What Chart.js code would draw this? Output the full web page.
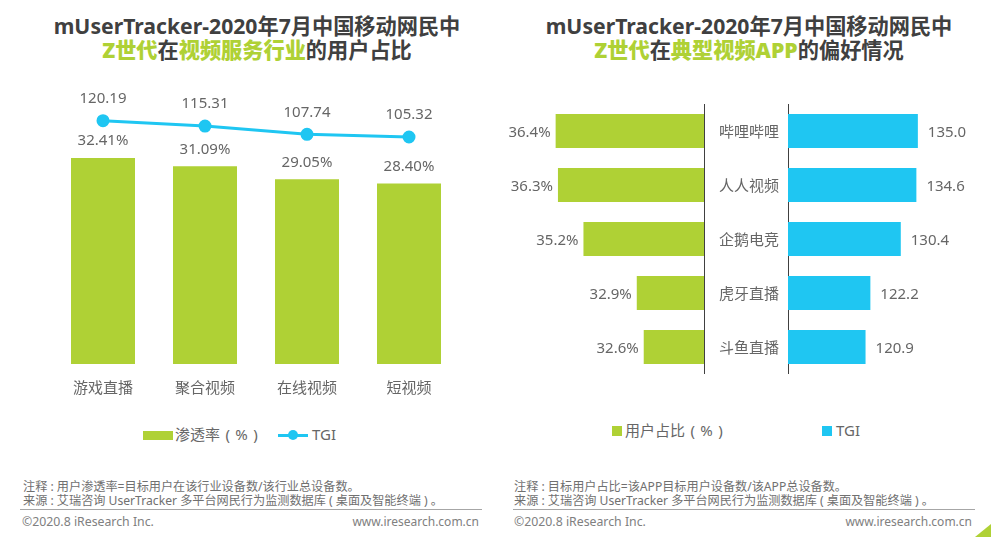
<!DOCTYPE html>
<html>
<head>
<meta charset="utf-8">
<script src="https://cdn.jsdelivr.net/npm/chart.js@4"></script>
<style>
  html, body { margin: 0; padding: 0; background: #fff; }
  body { width: 991px; height: 537px; position: relative; overflow: hidden; font-family: "Noto Sans", "Noto Sans CJK SC", sans-serif; color: #666; }
  .abs { position: absolute; white-space: nowrap; }
  canvas { position: absolute; }
  .title { font-size: 21.2px; line-height: 24px; font-weight: 700; color: #404040; text-align: center; width: 490px; }
  .title b { color: #afd135; }
  .legend { font-size: 15px; line-height: 20px; word-spacing: 1.5px; }
  .note { font-size: 12.15px; line-height: 14px; color: #707070; }
  .foot { font-size: 12px; line-height: 16px; color: #808080; }
  .copy { font-size: 12.3px; }
  .rule { height: 1px; background: #a6a6a6; }
  .corner { left: 975px; top: 524px; width: 16px; height: 13px; background: #afd135; clip-path: polygon(100% 0, 100% 100%, 0 100%); }
</style>
</head>
<body>
<div class="abs title" style="left:12px;top:14px">mUserTracker-2020年7月中国移动网民中<br><b>Z世代</b>在<b>视频服务行业</b>的用户占比</div>
<div class="abs title" style="left:504px;top:14px">mUserTracker-2020年7月中国移动网民中<br><b>Z世代</b>在<b>典型视频APP</b>的偏好情况</div>

<canvas id="industryChart" style="left:52px;top:90px;width:408px;height:320px"></canvas>
<canvas id="shareChart" style="left:500px;top:104px;width:205px;height:270px"></canvas>
<canvas id="tgiChart" style="left:705px;top:104px;width:270px;height:270px"></canvas>

<div class="abs" style="left:143px;top:431px;width:30px;height:9px;background:#afd135"></div>
<div class="abs legend" style="left:175px;top:424px">渗透率 ( % )</div>
<div class="abs" style="left:278px;top:434px;width:30px;height:3px;background:#1fc6f2"></div>
<div class="abs" style="left:288px;top:430px;width:10px;height:10px;border-radius:50%;background:#1fc6f2"></div>
<div class="abs legend" style="left:312px;top:424px">TGI</div>

<div class="abs" style="left:612px;top:426px;width:10px;height:10px;background:#afd135"></div>
<div class="abs legend" style="left:625px;top:420px">用户占比 ( % )</div>
<div class="abs" style="left:822px;top:426px;width:10px;height:10px;background:#1fc6f2"></div>
<div class="abs legend" style="left:836px;top:420px">TGI</div>

<div class="abs note" style="left:23px;top:480px">注释 : 用户渗透率=目标用户在该行业设备数/该行业总设备数。<br>来源 : 艾瑞咨询 UserTracker 多平台网民行为监测数据库 ( 桌面及智能终端 ) 。</div>
<div class="abs rule" style="left:20px;top:509px;width:462px"></div>
<div class="abs foot copy" style="left:22px;top:514px">©2020.8 iResearch Inc.</div>
<div class="abs foot" style="right:512px;top:514px">www.iresearch.com.cn</div>

<div class="abs note" style="left:514px;top:480px">注释 : 目标用户占比=该APP目标用户设备数/该APP总设备数。<br>来源 : 艾瑞咨询 UserTracker 多平台网民行为监测数据库 ( 桌面及智能终端 ) 。</div>
<div class="abs rule" style="left:513px;top:509px;width:462px"></div>
<div class="abs foot copy" style="left:514px;top:514px">©2020.8 iResearch Inc.</div>
<div class="abs foot" style="right:19px;top:514px">www.iresearch.com.cn</div>
<div class="abs corner"></div>

<script>
const industries = ['游戏直播', '聚合视频', '在线视频', '短视频'];
const penetration = [32.41, 31.09, 29.05, 28.40];
const industryTgi = [120.19, 115.31, 107.74, 105.32];

const apps = ['哔哩哔哩', '人人视频', '企鹅电竞', '虎牙直播', '斗鱼直播'];
const userShare = [36.4, 36.3, 35.2, 32.9, 32.6];
const appTgi = [135.0, 134.6, 130.4, 122.2, 120.9];

const GREEN = '#afd135';
const BLUE = '#1fc6f2';
const LABEL = '#666666';
const FONT = '"Noto Sans", "Noto Sans CJK SC", sans-serif';
const TICK_FONT = { family: '"Noto Sans CJK SC", sans-serif', size: 15 };

Chart.defaults.animation = false;
Chart.defaults.responsive = false;
Chart.defaults.font.family = FONT;

// writes each dataset's own value next to its mark
const valueLabels = {
    id: 'valueLabels',
    afterDatasetsDraw(chart) {
        const ctx = chart.ctx;
        chart.data.datasets.forEach((ds, i) => {
            if (!ds.labelText) return;
            chart.getDatasetMeta(i).data.forEach((el, j) => {
                ctx.save();
                ctx.font = '15px ' + FONT;
                ctx.fillStyle = LABEL;
                ctx.textAlign = ds.labelAlign || 'center';
                ctx.textBaseline = 'middle';
                ctx.fillText(ds.labelText(j), el.x + (ds.labelDx || 0), el.y + (ds.labelDy || 0));
                ctx.restore();
            });
        });
    }
};

// stop the axis reserving room for its tick labels, the plot has to fill the canvas
function fixAxis(scale, key, size) {
    scale[key] = size;
    scale.paddingLeft = scale.paddingRight = scale.paddingTop = scale.paddingBottom = 0;
}

new Chart(document.getElementById('industryChart'), {
    data: {
        labels: industries,
        datasets: [
            {
                type: 'line',
                data: industryTgi,
                yAxisID: 'yTgi',
                borderColor: BLUE,
                backgroundColor: BLUE,
                borderWidth: 3,
                pointRadius: 5,
                tension: 0,
                labelText: j => industryTgi[j].toFixed(2),
                labelDy: -22
            },
            {
                type: 'bar',
                data: penetration,
                yAxisID: 'y',
                backgroundColor: GREEN,
                barPercentage: 64 / 102,
                categoryPercentage: 1,
                labelText: j => penetration[j].toFixed(2) + '%',
                labelDy: -17
            }
        ]
    },
    options: {
        layout: { padding: 0, autoPadding: false },
        plugins: { legend: { display: false }, tooltip: { enabled: false } },
        scales: {
            x: {
                grid: { display: false },
                border: { display: false },
                ticks: { color: LABEL, font: TICK_FONT, padding: 6 },
                afterFit: s => fixAxis(s, 'height', 46)
            },
            y: { display: false, min: 0, max: 43.1 },
            yTgi: { display: false, min: -101.8, max: 148.2 }
        }
    },
    plugins: [valueLabels]
});

new Chart(document.getElementById('shareChart'), {
    type: 'bar',
    data: {
        labels: apps,
        datasets: [{
            data: userShare,
            backgroundColor: GREEN,
            barPercentage: 34 / 54,
            categoryPercentage: 1,
            labelText: j => userShare[j].toFixed(1) + '%',
            labelAlign: 'right',
            labelDx: -5,
            labelDy: 1.5
        }]
    },
    options: {
        indexAxis: 'y',
        layout: { padding: 0 },
        plugins: { legend: { display: false }, tooltip: { enabled: false } },
        scales: {
            x: { display: false, reverse: true, min: 30, max: 38.8 },
            y: {
                position: 'right',
                grid: { display: false, drawTicks: false },
                border: { color: '#404040', width: 1 },
                ticks: { display: false },
                afterFit: s => fixAxis(s, 'width', 1)
            }
        }
    },
    plugins: [valueLabels]
});

new Chart(document.getElementById('tgiChart'), {
    type: 'bar',
    data: {
        labels: apps,
        datasets: [{
            data: appTgi,
            backgroundColor: BLUE,
            barPercentage: 34 / 54,
            categoryPercentage: 1,
            labelText: j => appTgi[j].toFixed(1),
            labelAlign: 'left',
            labelDx: 10,
            labelDy: 1.5
        }]
    },
    options: {
        indexAxis: 'y',
        layout: { padding: 0 },
        plugins: { legend: { display: false }, tooltip: { enabled: false } },
        scales: {
            x: { display: false, min: 100, max: 150.4 },
            y: {
                grid: { display: false, drawTicks: false },
                border: { color: '#404040', width: 1 },
                ticks: { color: LABEL, font: TICK_FONT, crossAlign: 'center', padding: 9 },
                afterFit: s => fixAxis(s, 'width', 83)
            }
        }
    },
    plugins: [valueLabels]
});
</script>
</body>
</html>
